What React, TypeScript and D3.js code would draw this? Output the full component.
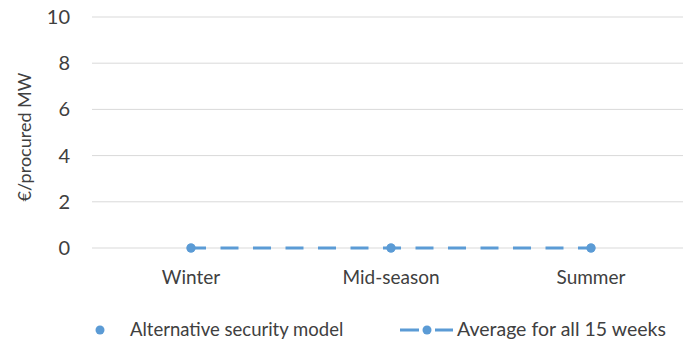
import React from "react";
import * as d3 from "d3";

const categories = ["Winter", "Mid-season", "Summer"];
const alternativeModel = [0, 0, 0];
const averageAll15Weeks = [0, 0, 0];
const yTicks = [0, 2, 4, 6, 8, 10];
const seriesNames = ["Alternative security model", "Average for all 15 weeks"];
const yTitle = "€/procured MW";

const W = 683;
const H = 340;
const BLUE = "#5B9BD5";
const GRID = "#D9D9D9";
const TEXT = "#404040";
const FONT = "Lato, 'Open Sans', sans-serif";

export default function App() {
  const x = d3.scalePoint<string>().domain(categories).range([91, 691]).padding(0.5);
  const y = d3.scaleLinear().domain([0, 10]).range([248, 17]);
  const line = d3
    .line<number>()
    .x((_, i) => x(categories[i]) as number)
    .y((d) => y(d));

  return (
    <svg width={W} height={H} style={{ position: "absolute", left: 0, top: 0 }} fontFamily={FONT}>
      <rect width={W} height={H} fill="#fff" />
      {yTicks.map((t) => (
        <g key={t}>
          <line x1={92} x2={W} y1={y(t)} y2={y(t)} stroke={GRID} strokeWidth={1} />
          <text x={70} y={y(t)} dy="0.35em" textAnchor="end" fontSize={20} fill={TEXT}>
            {t}
          </text>
        </g>
      ))}
      <text
        transform={`translate(31,137) rotate(-90)`}
        textAnchor="middle"
        fontSize={18}
        fill={TEXT}
      >
        {yTitle}
      </text>
      {categories.map((c) => (
        <text key={c} x={x(c)} y={284} textAnchor="middle" fontSize={19} fill={TEXT}>
          {c}
        </text>
      ))}
      <path
        d={line(averageAll15Weeks) || ""}
        fill="none"
        stroke={BLUE}
        strokeWidth={3}
        strokeDasharray="18 14.5"
        strokeDashoffset={3}
      />
      {averageAll15Weeks.map((v, i) => (
        <circle key={"a" + i} cx={x(categories[i])} cy={y(v)} r={4.5} fill={BLUE} />
      ))}
      {alternativeModel.map((v, i) => (
        <circle key={"b" + i} cx={x(categories[i])} cy={y(v)} r={4.5} fill={BLUE} />
      ))}
      <g>
        <circle cx={100} cy={330} r={4.5} fill={BLUE} />
        <text x={130} y={336} fontSize={18.5} fill={TEXT}>
          {seriesNames[0]}
        </text>
        <line x1={400} x2={453} y1={330} y2={330} stroke={BLUE} strokeWidth={3} strokeDasharray="19 16" />
        <circle cx={427} cy={330} r={4.5} fill={BLUE} />
        <text x={457} y={336} fontSize={19.5} fill={TEXT}>
          {seriesNames[1]}
        </text>
      </g>
    </svg>
  );
}
